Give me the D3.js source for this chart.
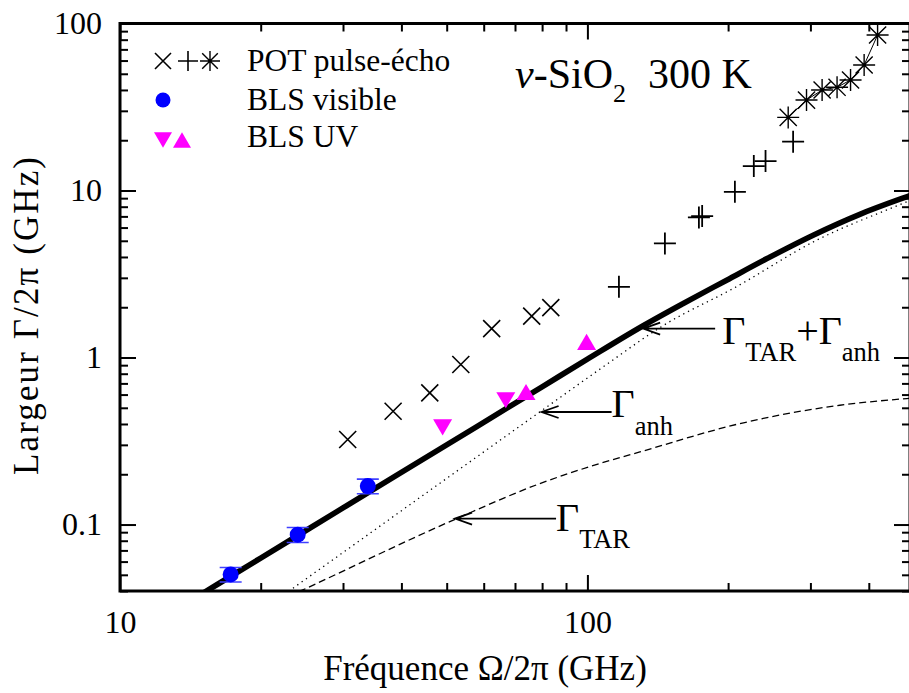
<!DOCTYPE html>
<html><head><meta charset="utf-8">
<script src="https://cdn.jsdelivr.net/npm/d3@7"></script>
<style>
body{margin:0;background:#fff}
text{font-family:"Liberation Serif","Times New Roman",serif;fill:#000}
</style>
</head><body><svg id="c" width="909" height="693"></svg>
<script>
// ---- data ----
const potCrossFreq  = [30.7, 38.4, 46.0, 53.6, 62.4, 76.0, 83.5];
const potCrossGamma = [0.323, 0.477, 0.614, 0.908, 1.49, 1.77, 1.99];
const potPlusFreq   = [116.8, 146.5, 173.2, 176.0, 206.8, 227.0, 240.5, 275.5];
const potPlusGamma  = [2.65, 4.82, 6.90, 7.03, 9.82, 14.0, 15.0, 19.6];
const potStarFreq   = [268.9, 294.3, 317.8, 342.1, 365.6, 390.9, 417.7];
const potStarGamma  = [27.4, 34.8, 40.0, 41.5, 45.9, 56.4, 85.3];
const blsVisFreq    = [17.25, 24.0, 33.9];
const blsVisGamma   = [0.0503, 0.087, 0.170];
const blsVisErr     = [0.005, 0.009, 0.017];
const blsUvDownFreq = [49.0, 66.9];
const blsUvDownGamma= [0.382, 0.555];
const blsUvUpFreq   = [73.9, 99.6];
const blsUvUpGamma  = [0.622, 1.24];

const totalFreq  = [15, 20, 30, 50, 80, 100, 131.6, 160, 198.6, 241.7, 304.1, 382.7, 481.8, 500];
const totalGamma = [0.0386, 0.0630, 0.1257, 0.300, 0.668, 0.978, 1.55, 2.10, 2.905, 3.90, 5.40, 7.20, 9.17, 9.52];
const anhFreq    = [22, 30, 50, 80, 106.3, 147.7, 205.1, 309.3, 481.8, 500];
const anhGamma   = [0.0366, 0.068, 0.189, 0.483, 0.851, 1.598, 2.59, 5.04, 8.55, 8.93];
const tarFreq    = [23, 24.47, 52.5, 79.1, 106.3, 129.5, 211.9, 346.8, 481.8, 500];
const tarGamma   = [0.0372, 0.0403, 0.1085, 0.1758, 0.232, 0.272, 0.402, 0.518, 0.568, 0.573];

const xMajorTicks = [10, 100];
const xMinorTicks = [20, 30, 40, 50, 60, 70, 80, 90, 200, 300, 400];
const yMajorTicks = [0.1, 1, 10, 100];
const yMinorTicks = [0.04,0.05,0.06,0.07,0.08,0.09,0.2,0.3,0.4,0.5,0.6,0.7,0.8,0.9,2,3,4,5,6,7,8,9,20,30,40,50,60,70,80,90];
const xTickLabels = ["10", "100"];
const yTickLabels = ["0.1", "1", "10", "100"];

const annTipFreq  = [131.6, 79.8, 52.1];
const annTipGamma = [1.49, 0.472, 0.1085];
const annLen      = [72, 70, 101];

// ---- setup ----
const svg = d3.select("#c");
const L = 120, R = 910, T = 23.5, B = 591;
const x = d3.scaleLog().domain([10, 490]).range([L, R]);
const y = d3.scaleLog().domain([0.04, 100]).range([B, T]);

svg.append("defs").append("clipPath").attr("id","clip")
  .append("rect").attr("x",L).attr("y",T).attr("width",R-L).attr("height",B-T);

// ---- axes ----
function styleAxis(g){
  g.select(".domain").remove();
  g.selectAll(".tick line").attr("stroke","#000").attr("stroke-width",2);
  g.selectAll(".tick text").attr("font-size",32).attr("font-family",'"Liberation Serif","Times New Roman",serif').attr("fill","#000");
}
const fmtX = (d)=> xTickLabels[xMajorTicks.indexOf(d)];
const fmtY = (d)=> yTickLabels[yMajorTicks.indexOf(d)];

svg.append("g").attr("transform",`translate(0,${B})`)
  .call(d3.axisBottom(x).tickValues(xMajorTicks).tickFormat(fmtX).tickSize(-16).tickSizeOuter(0).tickPadding(19)).call(styleAxis);
svg.append("g").attr("transform",`translate(0,${B})`)
  .call(d3.axisBottom(x).tickValues(xMinorTicks).tickFormat("").tickSize(-8).tickSizeOuter(0)).call(styleAxis);
svg.append("g").attr("transform",`translate(0,${T})`)
  .call(d3.axisTop(x).tickValues(xMajorTicks).tickFormat("").tickSize(-16).tickSizeOuter(0)).call(styleAxis);
svg.append("g").attr("transform",`translate(0,${T})`)
  .call(d3.axisTop(x).tickValues(xMinorTicks).tickFormat("").tickSize(-8).tickSizeOuter(0)).call(styleAxis);

svg.append("g").attr("transform",`translate(${L},0)`)
  .call(d3.axisLeft(y).tickValues(yMajorTicks).tickFormat(fmtY).tickSize(-16).tickSizeOuter(0).tickPadding(18)).call(styleAxis);
svg.append("g").attr("transform",`translate(${L},0)`)
  .call(d3.axisLeft(y).tickValues(yMinorTicks).tickFormat("").tickSize(-8).tickSizeOuter(0)).call(styleAxis);
svg.append("g").attr("transform",`translate(${R},0)`)
  .call(d3.axisRight(y).tickValues(yMajorTicks).tickFormat("").tickSize(-16).tickSizeOuter(0)).call(styleAxis);
svg.append("g").attr("transform",`translate(${R},0)`)
  .call(d3.axisRight(y).tickValues(yMinorTicks).tickFormat("").tickSize(-8).tickSizeOuter(0)).call(styleAxis);

svg.append("rect").attr("x",L).attr("y",T).attr("width",R-L).attr("height",B-T)
  .attr("fill","none").attr("stroke","#000").attr("stroke-width",3);

// ---- axis titles ----
svg.append("text").attr("x",485).attr("y",680).attr("text-anchor","middle").attr("font-size",35)
  .text("Fréquence \u03A9/2\u03C0 (GHz)");
svg.append("text").attr("transform","translate(38,316) rotate(-90)").attr("text-anchor","middle").attr("font-size",35)
  .attr("textLength",318).attr("lengthAdjust","spacing")
  .text("Largeur \u0393/2\u03C0 (GHz)");

// ---- curves ----
const plot = svg.append("g").attr("clip-path","url(#clip)");
const line = d3.line().x(d=>x(d[0])).y(d=>y(d[1])).curve(d3.curveMonotoneX);
plot.append("path").datum(d3.zip(tarFreq, tarGamma)).attr("d",line)
  .attr("fill","none").attr("stroke","#000").attr("stroke-width",1.3).attr("stroke-dasharray","7,4");
plot.append("path").datum(d3.zip(anhFreq, anhGamma)).attr("d",line)
  .attr("fill","none").attr("stroke","#000").attr("stroke-width",1.3).attr("stroke-dasharray","1.3,4");
plot.append("path").datum(d3.zip(totalFreq, totalGamma)).attr("d",line)
  .attr("fill","none").attr("stroke","#000").attr("stroke-width",5.6);

// ---- markers ----
const crossPath = s => `M${-s},${-s}L${s},${s}M${-s},${s}L${s},${-s}`;
const plusPath  = s => `M${-s},0H${s}M0,${-s}V${s}`;
const starPath  = s => crossPath(s*0.78) + plusPath(s);

plot.append("path").datum(d3.zip(potStarFreq, potStarGamma))
  .attr("d", d3.line().x(d=>x(d[0])).y(d=>y(d[1])))
  .attr("fill","none").attr("stroke","#000").attr("stroke-width",1);

plot.selectAll(".cr").data(d3.zip(potCrossFreq, potCrossGamma)).join("path")
  .attr("transform",d=>`translate(${x(d[0])},${y(d[1])})`).attr("d",crossPath(8.5))
  .attr("stroke","#000").attr("stroke-width",1.6).attr("fill","none");
plot.selectAll(".pl").data(d3.zip(potPlusFreq, potPlusGamma)).join("path")
  .attr("transform",d=>`translate(${x(d[0])},${y(d[1])})`).attr("d",plusPath(11))
  .attr("stroke","#000").attr("stroke-width",1.8).attr("fill","none");
plot.selectAll(".st").data(d3.zip(potStarFreq, potStarGamma)).join("path")
  .attr("transform",d=>`translate(${x(d[0])},${y(d[1])})`).attr("d",starPath(11))
  .attr("stroke","#000").attr("stroke-width",1.4).attr("fill","none");

const vis = d3.zip(blsVisFreq, blsVisGamma, blsVisErr);
plot.selectAll(".eb").data(vis).join("path").attr("d",d=>{
  const cx=x(d[0]), y1=y(d[1]-d[2]), y2=y(d[1]+d[2]);
  return `M${cx-11},${y1}H${cx+11}M${cx-11},${y2}H${cx+11}M${cx},${y1}V${y2}`;
}).attr("stroke","#4040ff").attr("stroke-width",1.6).attr("fill","none");
plot.selectAll(".vc").data(vis).join("circle")
  .attr("cx",d=>x(d[0])).attr("cy",d=>y(d[1])).attr("r",8).attr("fill","#0000ff");

const triDown = s => `M${-s},${-s*0.85}L${s},${-s*0.85}L0,${s*0.85}Z`;
const triUp   = s => `M${-s},${s*0.85}L${s},${s*0.85}L0,${-s*0.85}Z`;
plot.selectAll(".td").data(d3.zip(blsUvDownFreq, blsUvDownGamma)).join("path")
  .attr("transform",d=>`translate(${x(d[0])},${y(d[1])})`).attr("d",triDown(9.5)).attr("fill","#ff00ff");
plot.selectAll(".tu").data(d3.zip(blsUvUpFreq, blsUvUpGamma)).join("path")
  .attr("transform",d=>`translate(${x(d[0])},${y(d[1])})`).attr("d",triUp(9.5)).attr("fill","#ff00ff");

// ---- annotations ----
annTipFreq.forEach((f,i)=>{
  const tx = x(f), ty = y(annTipGamma[i]);
  svg.append("path").attr("d",`M${tx},${ty}H${tx+annLen[i]}M${tx+17},${ty-6}L${tx},${ty}L${tx+17},${ty+6}`)
    .attr("stroke","#000").attr("stroke-width",1.8).attr("fill","none");
});
{
  const tx = x(annTipFreq[0])+annLen[0]+7, ty = y(annTipGamma[0]);
  const t = svg.append("text").attr("x",tx).attr("y",ty+15);
  t.append("tspan").attr("font-size",40).text("\u0393");
  t.append("tspan").attr("font-size",26.5).attr("dy",17).text("TAR");
  t.append("tspan").attr("font-size",40).attr("dy",-17).text("+\u0393");
  t.append("tspan").attr("font-size",26.5).attr("dy",17).text("anh");
}
{
  const tx = x(annTipFreq[1])+annLen[1], ty = y(annTipGamma[1]);
  const t = svg.append("text").attr("x",tx).attr("y",ty+5);
  t.append("tspan").attr("font-size",40).text("\u0393");
  t.append("tspan").attr("font-size",26.5).attr("dy",18).text("anh");
}
{
  const tx = x(annTipFreq[2])+annLen[2], ty = y(annTipGamma[2]);
  const t = svg.append("text").attr("x",tx).attr("y",ty+12);
  t.append("tspan").attr("font-size",40).text("\u0393");
  t.append("tspan").attr("font-size",26.5).attr("dy",17).text("TAR");
}

// ---- sample label ----
{
  const t = svg.append("text").attr("x",515).attr("y",88).attr("font-size",42);
  t.append("tspan").attr("font-style","italic").text("\u03BD");
  t.append("tspan").text("-SiO");
  t.append("tspan").attr("font-size",26).attr("dy",14).text("2");
  t.append("tspan").attr("x",648).attr("dy",-14).text("300 K");
}

// ---- legend ----
const lg = svg.append("g");
lg.append("path").attr("transform","translate(163,61)").attr("d",crossPath(8)).attr("stroke","#000").attr("stroke-width",1.6);
lg.append("path").attr("transform","translate(188,61)").attr("d",plusPath(10)).attr("stroke","#000").attr("stroke-width",1.6);
lg.append("path").attr("transform","translate(210,61)").attr("d",starPath(10)).attr("stroke","#000").attr("stroke-width",1.4);
lg.append("circle").attr("cx",163).attr("cy",100).attr("r",7.5).attr("fill","#0000ff");
lg.append("path").attr("transform","translate(163,140)").attr("d",triDown(9)).attr("fill","#ff00ff");
lg.append("path").attr("transform","translate(182,140)").attr("d",triUp(9)).attr("fill","#ff00ff");
const legendLabels = ["POT pulse-\u00E9cho", "BLS visible", "BLS UV"];
const legendY = [71, 110, 147];
legendLabels.forEach((s,i)=> lg.append("text").attr("x",247).attr("y",legendY[i]).attr("font-size",31.5).text(s));
</script>
</body></html>
